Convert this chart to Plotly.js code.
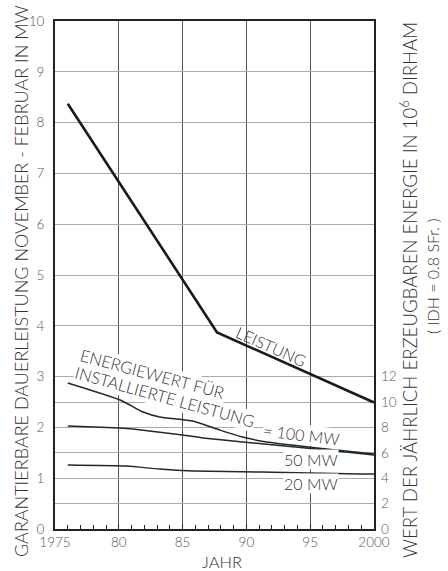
<!DOCTYPE html>
<html>
<head>
<meta charset="utf-8">
<script src="https://cdn.plot.ly/plotly-3.0.1.min.js"></script>
<style>html,body{margin:0;padding:0;background:#fff;}#chart{width:448px;height:571px;}</style>
</head>
<body>
<div id="chart"></div>
<script>
// ---- data ----
const leistungYears = [1976, 1987.7, 2000];
const leistungMW = [8.37, 3.87, 2.49];

const ew100Years = [1976, 1980.1, 1981.9, 1983.2, 1985.8, 1987.9, 1989.7, 1991.6, 1996.3, 2000];
const ew100 = [11.5, 10.16, 9.21, 8.82, 8.5, 7.8, 7.24, 6.85, 6.3, 5.9];

const ew50Years = [1976, 1980.1, 1981.1, 1985.0, 1986.6, 1989.7, 1996.3, 2000];
const ew50 = [8.11, 7.95, 7.87, 7.40, 7.17, 6.85, 6.22, 5.83];

const ew20Years = [1976, 1980.6, 1983.2, 1985.8, 1991.1, 1998.9, 2000];
const ew20 = [5.04, 4.96, 4.72, 4.57, 4.49, 4.33, 4.33];

const leftTicks = [0, 1, 2, 3, 4, 5, 6, 7, 8, 9, 10];
const rightTicks = [0, 2, 4, 6, 8, 10, 12];
const xTickAlias = {'1980': '80', '1985': '85', '1990': '90', '1995': '95'};

const labelLeistung = 'LEISTUNG';
const labelEnergie1 = 'ENERGIEWERT FÜR';
const labelEnergie2 = 'INSTALLIERTE LEISTUNG';
const label100 = '= 100 MW';
const label50 = '50 MW';
const label20 = '20 MW';
const titleLeft = 'GARANTIERBARE DAUERLEISTUNG NOVEMBER - FEBRUAR IN MW';
const titleRight1 = 'WERT DER JÄHRLICH ERZEUGBAREN ENERGIE IN 10<sup>6</sup> DIRHAM';
const titleRight2 = '( IDH = 0.8 SFr. )';
const titleX = 'JAHR';

// ---- styles ----
const FONT = 'Lato, DejaVu Sans, sans-serif';
const TXT = '#333';
const W = 300;

const traces = [
  {x: leistungYears, y: leistungMW, mode: 'lines', line: {color: '#1a1a1a', width: 2.6}, yaxis: 'y', hoverinfo: 'skip'},
  {x: ew100Years, y: ew100, mode: 'lines', line: {color: '#1f2a2a', width: 1.5, shape: 'spline', smoothing: 0.5}, yaxis: 'y2', hoverinfo: 'skip'},
  {x: ew50Years, y: ew50, mode: 'lines', line: {color: '#1f2a2a', width: 1.5, shape: 'spline', smoothing: 0.5}, yaxis: 'y2', hoverinfo: 'skip'},
  {x: ew20Years, y: ew20, mode: 'lines', line: {color: '#1f2a2a', width: 1.5, shape: 'spline', smoothing: 0.5}, yaxis: 'y2', hoverinfo: 'skip'}
];

function ann(text, x, y, angle, size, bg) {
  return {text: text, x: x, y: y, xref: 'x', yref: 'y', showarrow: false, textangle: angle,
    xanchor: 'center', yanchor: 'middle', font: {family: FONT, size: size, color: TXT, weight: W},
    bgcolor: bg ? '#ffffff' : 'rgba(0,0,0,0)', borderpad: 0};
}
function pann(text, x, y, angle, size) {
  return {text: text, x: x, y: y, xref: 'paper', yref: 'paper', showarrow: false, textangle: angle,
    xanchor: 'center', yanchor: 'middle', font: {family: FONT, size: size, color: TXT, weight: W}};
}

const tickFont = {family: FONT, size: 13.5, color: '#555', weight: W};

const layout = {
  width: 448, height: 571,
  margin: {l: 55, r: 74, t: 21, b: 42, pad: 0},
  paper_bgcolor: '#ffffff', plot_bgcolor: '#ffffff',
  showlegend: false,
  font: {family: FONT, color: TXT},
  xaxis: {
    range: [1975, 2000], tick0: 1975, dtick: 5, labelalias: xTickAlias,
    ticks: 'inside', ticklen: 5, tickcolor: '#222', tickwidth: 1,
    minor: {dtick: 1, ticks: 'inside', ticklen: 4, tickcolor: '#222', showgrid: false},
    showgrid: true, gridcolor: '#555', gridwidth: 1,
    showline: true, linecolor: '#222', linewidth: 2, mirror: true, zeroline: false,
    tickfont: tickFont
  },
  yaxis: {
    range: [0, 10], tickvals: leftTicks, ticks: '',
    showgrid: true, gridcolor: '#aaa', gridwidth: 1,
    showline: true, linecolor: '#222', linewidth: 2, mirror: true, zeroline: false,
    tickfont: tickFont, ticklabelstandoff: 6
  },
  yaxis2: {
    range: [0, 40], tickvals: rightTicks, overlaying: 'y', side: 'right', ticks: '',
    showgrid: true, gridcolor: '#aaa', gridwidth: 1, showline: false, zeroline: false,
    tickfont: tickFont, ticklabelstandoff: 6
  },
  annotations: [
    ann(labelLeistung, 1992.0, 3.6, 24, 16, false),
    ann(labelEnergie1, 1982.6, 3.05, 15, 16.5, true),
    ann(labelEnergie2, 1983.6, 2.6, 15.5, 16.5, true),
    ann(label100, 1994.35, 1.86, 7, 16, true),
    ann(label50, 1995.1, 1.36, 0, 16, true),
    ann(label20, 1995.1, 0.905, 0, 16, true),
    pann(titleLeft, -0.1066, 0.488, -90, 18),
    pann(titleRight1, 1.108, 0.4715, -90, 18.6),
    pann(titleRight2, 1.182, 0.498, -90, 16),
    pann(titleX, 0.5235, -0.065, 0, 16.5)
  ]
};

Plotly.newPlot('chart', traces, layout, {staticPlot: true, displayModeBar: false});
</script>
</body>
</html>
